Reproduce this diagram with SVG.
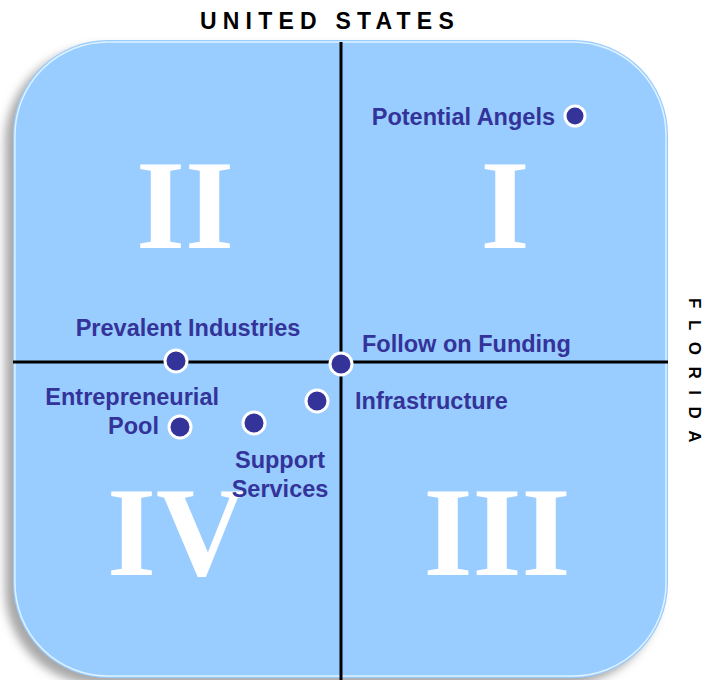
<svg xmlns="http://www.w3.org/2000/svg" width="704" height="680" viewBox="0 0 704 680">
<defs>
<filter id="sh" x="-20%" y="-20%" width="140%" height="140%">
<feGaussianBlur stdDeviation="5"/>
</filter>
<style>
.lbl{font-family:"Liberation Sans",Arial,sans-serif;font-weight:bold;font-size:23.5px;fill:#333399}
.num{font-family:"Liberation Serif","Times New Roman",serif;font-weight:bold;font-size:126px;fill:#ffffff;text-anchor:middle}
.axis{font-family:"Liberation Sans",Arial,sans-serif;font-weight:bold;fill:#000000}
.dot{fill:#333399;stroke:#ffffff;stroke-width:3}
.ln{stroke:#000000;stroke-width:3}
</style>
</defs>
<rect width="704" height="680" fill="#ffffff"/>
<g id="panel">
<rect x="5" y="47" width="655" height="638" rx="95" ry="95" fill="#a8a8a8" filter="url(#sh)"/>
<rect x="13" y="40" width="655" height="638" rx="95" ry="95" fill="#99ccff"/>
<rect x="15" y="42" width="651" height="634" rx="93" ry="93" fill="none" stroke="#e6f6ff" stroke-width="1.5" opacity="0.9"/>
</g>
<g id="numerals">
<text class="num" x="185" y="248">II</text>
<text class="num" x="505" y="248">I</text>
<text class="num" x="177" y="575">IV</text>
<text class="num" x="497" y="575">III</text>
</g>
<g id="connectors">
<line class="ln" x1="341" y1="42" x2="341" y2="680"/>
<line class="ln" x1="13" y1="362" x2="668" y2="362"/>
</g>
<g id="axis-labels">
<text class="axis" x="200" y="29" font-size="23" letter-spacing="6.2">UNITED STATES</text>
<text class="axis" transform="translate(689,298) rotate(90)" font-size="17" letter-spacing="11.5">FLORIDA</text>
</g>
<g id="potential-angels">
<text class="lbl" x="555" y="125" text-anchor="end">Potential Angels</text>
<circle class="dot" cx="575" cy="116" r="10"/>
</g>
<g id="prevalent-industries">
<text class="lbl" x="188" y="336" text-anchor="middle">Prevalent Industries</text>
<circle class="dot" cx="176" cy="361" r="11"/>
</g>
<g id="follow-on-funding">
<text class="lbl" x="362" y="352">Follow on Funding</text>
<circle class="dot" cx="341" cy="364" r="11"/>
</g>
<g id="infrastructure">
<text class="lbl" x="355" y="409">Infrastructure</text>
<circle class="dot" cx="317" cy="401" r="11"/>
</g>
<g id="entrepreneurial-pool">
<text class="lbl" x="219" y="405" text-anchor="end">Entrepreneurial</text>
<text class="lbl" x="159" y="434" text-anchor="end">Pool</text>
<circle class="dot" cx="180" cy="427" r="11"/>
</g>
<g id="support-services">
<circle class="dot" cx="254" cy="423" r="11"/>
<text class="lbl" x="280" y="468" text-anchor="middle">Support</text>
<text class="lbl" x="280" y="497" text-anchor="middle">Services</text>
</g>
</svg>
